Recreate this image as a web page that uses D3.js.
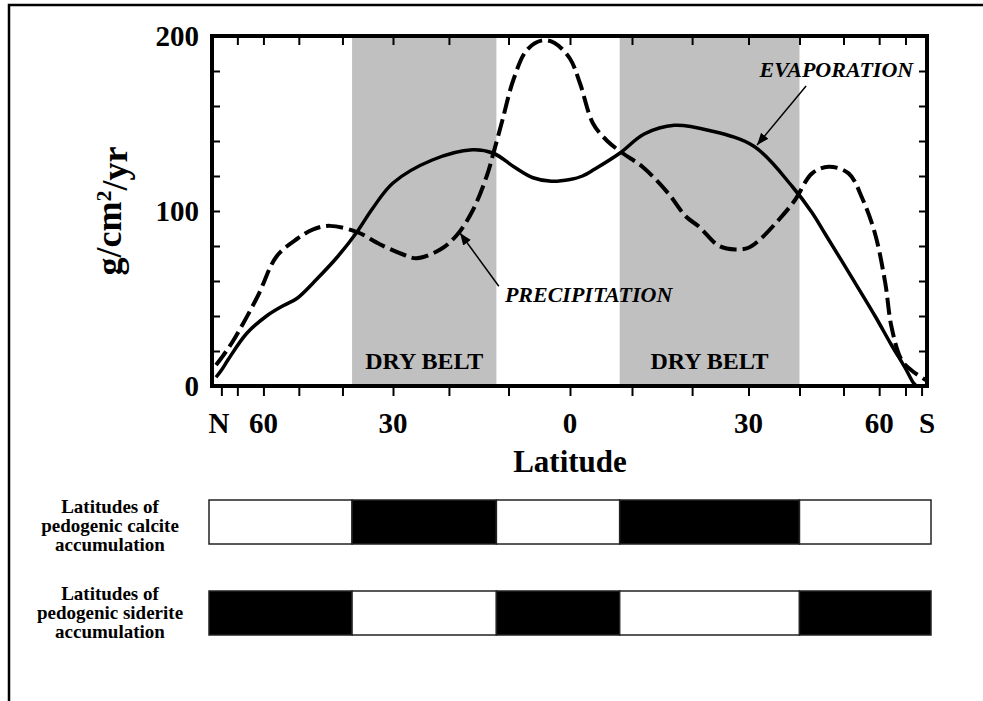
<!DOCTYPE html>
<html>
<head>
<meta charset="utf-8">
<script src="https://cdn.jsdelivr.net/npm/d3@7"></script>
<style>
body { margin: 0; background: #fff; }
text { font-family: "Liberation Serif", "Times New Roman", serif; font-weight: bold; fill: #000; }
</style>
</head>
<body>
<div id="chart-area"></div>
<script>

// Data (latitude: north positive, south negative)
var evapLat = [90, 80, 75, 66, 59, 54, 50.5, 45.7, 41, 37, 34, 30, 23, 16, 12.5, 9, 6, 3, 0, -2, -4, -8, -12, -17, -23, -31, -38.5, -42.7, -45.6, -52, -58.7, -64, -70, -74, -76];
var evapVal = [5, 9, 15, 30, 40, 46, 50, 61, 74, 88, 101, 116, 129, 135, 133, 125, 119, 117, 118, 120, 124, 133, 144, 149, 146, 137, 114, 99, 87, 62.5, 40, 24, 10, 2, 0];

var precLat = [90, 80, 72, 62, 56, 50.5, 46.5, 42.7, 37, 32.5, 28, 25.7, 21.5, 18.7, 16, 13.6, 12.5, 11, 9.2, 7, 4.5, 2.5, 0, -1.6, -3.7, -6, -8.5, -11.8, -16, -18.9, -21.2, -24.7, -27.6, -30, -31.9, -35.8, -39, -42.7, -46.4, -51.3, -55, -58.7, -62, -64.2, -68.2, -73, -90];
var precVal = [12, 16, 26, 51, 74, 84, 89.5, 91.5, 88, 81, 75, 73, 78, 86, 100, 120, 133, 152, 175, 192, 197.5, 196, 187, 173, 150, 140, 133, 125, 110, 97, 91, 80, 78, 79, 83, 95, 106, 121.5, 125.3, 121.5, 107, 87, 59, 34, 15, 9, 3];

var dryBelts = [[38, 12], [-8, -40]];
var bandEdges = [90, 38, 12, -8, -40, -90];
var calcite = [0, 1, 0, 1, 0];   // 1 = black
var siderite = [1, 0, 1, 0, 1];

var yTicks = [20, 40, 60, 80, 100, 120, 140, 160, 180];
var yLabels = [0, 100, 200];
var topTicks = [70, 60, 50, 40, 30, 20, 10, 0, -10, -20, -30, -40, -50, -60, -70];
var bottomTicks = [80, 70, 60, 50, 40, 30, 20, 10, 0, -10, -20, -30, -40, -50, -60, -70, -80];
var latLabels = [[90, "N"], [60, "60"], [30, "30"], [0, "0"], [-30, "30"], [-60, "60"], [-90, "S"]];

// SVG
var W = 983, H = 701;
var svg = d3.select("#chart-area").append("svg")
	.attr("width", W)
	.attr("height", H);

// scales: x is linear in sin(latitude)
var xs = d3.scaleLinear().domain([1, 0, -1]).range([216, 570, 927]);
function x(lat) { return xs(Math.sin(lat * Math.PI / 180)); }
var y = d3.scaleLinear().domain([0, 200]).range([386, 36]);

var pLeft = x(90) - 4, pRight = x(-90), pTop = y(200), pBottom = y(0);

// outer border (top + left)
svg.append("path")
	.attr("d", "M9,701 L9,5 L983,5")
	.attr("fill", "none")
	.attr("stroke", "#000")
	.attr("stroke-width", 2.5);

// dry belts
svg.selectAll(".belt").data(dryBelts).enter().append("rect")
	.attr("class", "belt")
	.attr("x", function(d){ return x(d[0]); })
	.attr("width", function(d){ return x(d[1]) - x(d[0]); })
	.attr("y", pTop)
	.attr("height", pBottom - pTop)
	.attr("fill", "#c0c0c0");

svg.selectAll(".beltlabel").data(dryBelts).enter().append("text")
	.attr("x", function(d){ return (x(d[0]) + x(d[1])) / 2; })
	.attr("y", y(9.7))
	.attr("text-anchor", "middle")
	.style("font-size", "24px")
	.text("DRY BELT");

// curves
var line = d3.line()
	.x(function(d){ return x(d[0]); })
	.y(function(d){ return y(d[1]); })
	.curve(d3.curveCatmullRom.alpha(0.5));

var evap = evapLat.map(function(d, i){ return [d, evapVal[i]]; });
var prec = precLat.map(function(d, i){ return [d, precVal[i]]; });

svg.append("path")
	.attr("d", line(prec))
	.attr("fill", "none")
	.attr("stroke", "#000")
	.attr("stroke-width", 4)
	.attr("stroke-dasharray", "17,6");

svg.append("path")
	.attr("d", line(evap))
	.attr("fill", "none")
	.attr("stroke", "#000")
	.attr("stroke-width", 3.5);

// axes ticks
var yAxisL = d3.axisLeft(y).tickValues(yTicks).tickSize(-8).tickFormat("");
var yAxisR = d3.axisRight(y).tickValues(yTicks).tickSize(-8).tickFormat("");
svg.append("g").attr("transform", "translate(" + pLeft + ",0)").call(yAxisL);
svg.append("g").attr("transform", "translate(" + pRight + ",0)").call(yAxisR);

// custom sine-latitude scale for d3 axis
var latScale = function(d){ return x(d); };
latScale.copy = function(){ return latScale; };
latScale.range = function(){ return [x(90), x(-90)]; };

svg.append("g").attr("transform", "translate(0," + pTop + ")")
	.call(d3.axisBottom(latScale).tickValues(topTicks).tickSize(9).tickFormat(""));
svg.append("g").attr("transform", "translate(0," + pBottom + ")")
	.call(d3.axisBottom(latScale).tickValues(bottomTicks).tickSize(10).tickFormat(""));

svg.selectAll(".tick line").attr("stroke", "#000").attr("stroke-width", 2);
svg.selectAll(".domain").remove();

// frame
svg.append("rect")
	.attr("x", pLeft).attr("y", pTop)
	.attr("width", pRight - pLeft).attr("height", pBottom - pTop)
	.attr("fill", "none")
	.attr("stroke", "#000")
	.attr("stroke-width", 4);

// tick labels
svg.selectAll(".ylab").data(yLabels).enter().append("text")
	.attr("x", 199)
	.attr("y", function(d){ return y(d); })
	.attr("dy", "0.36em")
	.attr("text-anchor", "end")
	.style("font-size", "29px")
	.text(function(d){ return d; });

svg.selectAll(".xlab").data(latLabels).enter().append("text")
	.attr("x", function(d){ return d[0] == 90 ? x(d[0]) + 3 : x(d[0]); })
	.attr("y", 433)
	.attr("text-anchor", "middle")
	.style("font-size", "29px")
	.text(function(d){ return d[1]; });

svg.append("text")
	.attr("x", x(0))
	.attr("y", 472)
	.attr("text-anchor", "middle")
	.style("font-size", "31px")
	.text("Latitude");

var ylab = svg.append("text")
	.attr("transform", "translate(121," + y(100) + ") rotate(-90)")
	.attr("text-anchor", "middle")
	.style("font-size", "36px");
ylab.append("tspan").text("g/cm");
ylab.append("tspan").attr("dy", "-0.45em").style("font-size", "22px").text("2");
ylab.append("tspan").attr("dy", "0.45em").text("/yr");

// annotations
svg.append("defs").append("marker")
	.attr("id", "arrow")
	.attr("viewBox", "0 0 10 10")
	.attr("refX", 10).attr("refY", 5)
	.attr("markerWidth", 8).attr("markerHeight", 8)
	.attr("orient", "auto")
	.append("path")
	.attr("d", "M0,1 L10,5 L0,9 Z")
	.attr("fill", "#000");

var notes = [
	{text: "EVAPORATION", tx: -74, ty: 176.6, anchor: "end", from: [-41.4, 171.4], to: [-31.6, 137.7]},
	{text: "PRECIPITATION", tx: 10.6, ty: 48, anchor: "start", from: [11.6, 57], to: [18.1, 87.4]}
];

svg.selectAll(".arrow").data(notes).enter().append("line")
	.attr("x1", function(d){ return x(d.from[0]); })
	.attr("y1", function(d){ return y(d.from[1]); })
	.attr("x2", function(d){ return x(d.to[0]); })
	.attr("y2", function(d){ return y(d.to[1]); })
	.attr("stroke", "#000")
	.attr("stroke-width", 1.5)
	.attr("marker-end", "url(#arrow)");

svg.selectAll(".note").data(notes).enter().append("text")
	.attr("x", function(d){ return x(d.tx); })
	.attr("y", function(d){ return y(d.ty); })
	.attr("text-anchor", function(d){ return d.anchor; })
	.style("font-size", "22px")
	.style("font-style", "italic")
	.text(function(d){ return d.text; });

// accumulation bars
var bars = [
	{name: ["Latitudes of", "pedogenic calcite", "accumulation"], fill: calcite, y0: 500, base: 513},
	{name: ["Latitudes of", "pedogenic siderite", "accumulation"], fill: siderite, y0: 591, base: 600}
];
var barH = 44;

bars.forEach(function(b){
	var segs = b.fill.map(function(f, i){
		var a = x(bandEdges[i]), c = x(bandEdges[i + 1]);
		if (i == 0) a = pLeft - 3;
		if (i == b.fill.length - 1) c = pRight + 4;
		return {x0: a, x1: c, f: f};
	});
	var g = svg.append("g");
	g.selectAll("rect").data(segs).enter().append("rect")
		.attr("x", function(d){ return d.x0; })
		.attr("width", function(d){ return d.x1 - d.x0; })
		.attr("y", b.y0)
		.attr("height", barH)
		.attr("fill", function(d){ return d.f ? "#000" : "#fff"; })
		.attr("stroke", "#222")
		.attr("stroke-width", 1.5);

	g.selectAll("text").data(b.name).enter().append("text")
		.attr("x", 110)
		.attr("y", function(d, i){ return b.base + i * 19; })
		.attr("text-anchor", "middle")
		.style("font-size", "19px")
		.text(function(d){ return d; });
});

</script>
</body>
</html>
